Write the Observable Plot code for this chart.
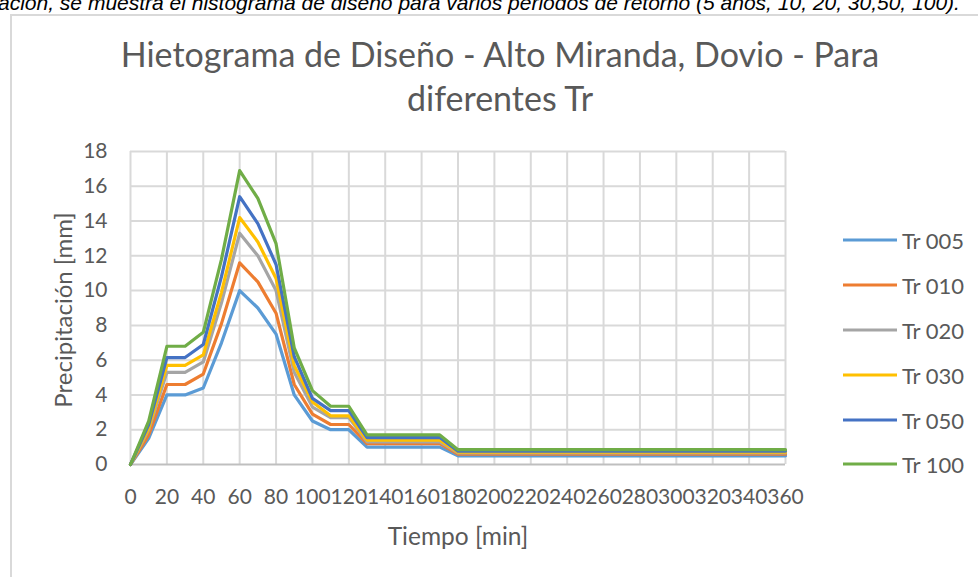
<!DOCTYPE html>
<html>
<head>
<meta charset="utf-8">
<script src="https://cdn.jsdelivr.net/npm/d3@7"></script>
<script src="https://cdn.jsdelivr.net/npm/@observablehq/plot@0.6"></script>
<style>
  html, body { margin: 0; padding: 0; background: #fff; }
  #wrap { position: relative; width: 978px; height: 577px; overflow: hidden; font-family: Lato, "Open Sans", sans-serif; }
  #caption { position: absolute; left: -2px; top: -9px; line-height: 24px; white-space: nowrap; font-family: "Liberation Sans", Arial, sans-serif; font-style: italic; font-size: 21px; color: #000; }
  #frame { position: absolute; left: 10px; top: 14px; width: 990px; height: 600px; border: 2px solid #d9d9d9; box-sizing: border-box; }
  #chart { position: absolute; left: 0; top: 0; }
  .title { position: absolute; left: 0; width: 1000px; text-align: center; font-size: 34px; line-height: 40px; color: #595959; white-space: nowrap; }
  #ylab { position: absolute; left: 62px; top: 310px; transform: translate(-50%, -50%) rotate(-90deg); font-size: 24px; color: #595959; white-space: nowrap; }
  #xlab { position: absolute; left: 458px; top: 535px; transform: translate(-50%, -50%); font-size: 24.5px; color: #595959; white-space: nowrap; }
  #legend { position: absolute; left: 843px; top: 0; }
  .lrow { position: absolute; left: 0; display: flex; align-items: center; white-space: nowrap; transform: translateY(-50%); }
  .lline { width: 54px; height: 3px; margin-right: 5px; }
  .ltext { font-size: 22px; color: #595959; }
</style>
</head>
<body>
<div id="wrap">
  <div id="caption">ación, se muestra el histograma de diseño para varios periodos de retorno (5 años, 10, 20, 30,50, 100).</div>
  <div id="frame"></div>
  <div id="chart"></div>
  <div class="title" style="top:34px;">Hietograma de Diseño - Alto Miranda, Dovio - Para</div>
  <div class="title" style="top:78px;">diferentes Tr</div>
  <div id="ylab">Precipitación [mm]</div>
  <div id="xlab">Tiempo [min]</div>
  <div id="legend"></div>
</div>
<script>
// ---- data ----
const times = [0,10,20,30,40,50,60,70,80,90,100,110,120,130,140,150,160,170,180,190,200,210,220,230,240,250,260,270,280,290,300,310,320,330,340,350,360];
const seriesNames = ["Tr 005","Tr 010","Tr 020","Tr 030","Tr 050","Tr 100"];
const seriesColors = ["#5B9BD5","#ED7D31","#A5A5A5","#FFC000","#4472C4","#70AD47"];
const tr005 = [0,1.5,4.0,4.0,4.4,7.0,10.0,9.0,7.5,4.0,2.5,2.0,2.0,1.0,1.0,1.0,1.0,1.0,0.5,0.5,0.5,0.5,0.5,0.5,0.5,0.5,0.5,0.5,0.5,0.5,0.5,0.5,0.5,0.5,0.5,0.5,0.5];
const tr010 = [0,1.7,4.6,4.6,5.2,8.1,11.6,10.5,8.7,4.6,2.9,2.3,2.3,1.2,1.2,1.2,1.2,1.2,0.6,0.6,0.6,0.6,0.6,0.6,0.6,0.6,0.6,0.6,0.6,0.6,0.6,0.6,0.6,0.6,0.6,0.6,0.6];
const tr020 = [0,2.0,5.3,5.3,5.9,9.3,13.3,12.0,10.0,5.3,3.3,2.7,2.7,1.3,1.3,1.3,1.3,1.3,0.67,0.67,0.67,0.67,0.67,0.67,0.67,0.67,0.67,0.67,0.67,0.67,0.67,0.67,0.67,0.67,0.67,0.67,0.67];
const tr030 = [0,2.1,5.7,5.7,6.3,9.9,14.2,12.8,10.7,5.7,3.6,2.8,2.8,1.4,1.4,1.4,1.4,1.4,0.71,0.71,0.71,0.71,0.71,0.71,0.71,0.71,0.71,0.71,0.71,0.71,0.71,0.71,0.71,0.71,0.71,0.71,0.71];
const tr050 = [0,2.3,6.15,6.15,6.9,10.8,15.4,13.85,11.5,6.2,3.8,3.1,3.1,1.55,1.55,1.55,1.55,1.55,0.77,0.77,0.77,0.77,0.77,0.77,0.77,0.77,0.77,0.77,0.77,0.77,0.77,0.77,0.77,0.77,0.77,0.77,0.77];
const tr100 = [0,2.5,6.8,6.8,7.6,11.8,16.9,15.3,12.7,6.7,4.25,3.35,3.35,1.7,1.7,1.7,1.7,1.7,0.85,0.85,0.85,0.85,0.85,0.85,0.85,0.85,0.85,0.85,0.85,0.85,0.85,0.85,0.85,0.85,0.85,0.85,0.85];
const xTicks = [0,20,40,60,80,100,120,140,160,180,200,220,240,260,280,300,320,340,360];
const yTicks = [0,2,4,6,8,10,12,14,16,18];

const seriesValues = [tr005, tr010, tr020, tr030, tr050, tr100];
const data = [];
seriesNames.forEach((name, i) => {
  times.forEach((t, j) => data.push({series: name, t, v: seriesValues[i][j]}));
});

const chart = Plot.plot({
  width: 978,
  height: 577,
  marginLeft: 130,
  marginRight: 193,
  marginTop: 151,
  marginBottom: 113,
  style: {fontFamily: "Lato, sans-serif", fontSize: "21px", color: "#595959", background: "transparent", overflow: "visible"},
  x: {type: "linear", domain: [0, 360]},
  y: {domain: [0, 18]},
  color: {domain: seriesNames, range: seriesColors},
  marks: [
    Plot.gridX(xTicks, {stroke: "#d9d9d9", strokeOpacity: 1, strokeWidth: 2}),
    Plot.gridY(yTicks.filter(d => d > 0), {stroke: "#d9d9d9", strokeOpacity: 1, strokeWidth: 2}),
    Plot.ruleY([0], {stroke: "#bfbfbf", strokeWidth: 2}),
    Plot.axisX(xTicks, {tickSize: 0, tickPadding: 25, label: null, fontSize: 21, fill: "#595959"}),
    Plot.axisY(yTicks, {tickSize: 0, tickPadding: 23, label: null, fontSize: 21, fill: "#595959"}),
    Plot.line(data, {x: "t", y: "v", z: "series", stroke: "series", strokeWidth: 3.2, strokeLinejoin: "round", strokeLinecap: "round"})
  ]
});
document.getElementById("chart").appendChild(chart);

const legend = document.getElementById("legend");
const legendTops = [240, 285, 330, 375, 420, 464];
seriesNames.forEach((name, i) => {
  const row = document.createElement("div");
  row.className = "lrow";
  row.style.top = legendTops[i] + "px";
  const ln = document.createElement("div");
  ln.className = "lline";
  ln.style.background = seriesColors[i];
  const tx = document.createElement("span");
  tx.className = "ltext";
  tx.textContent = name;
  row.appendChild(ln);
  row.appendChild(tx);
  legend.appendChild(row);
});
</script>
</body>
</html>
